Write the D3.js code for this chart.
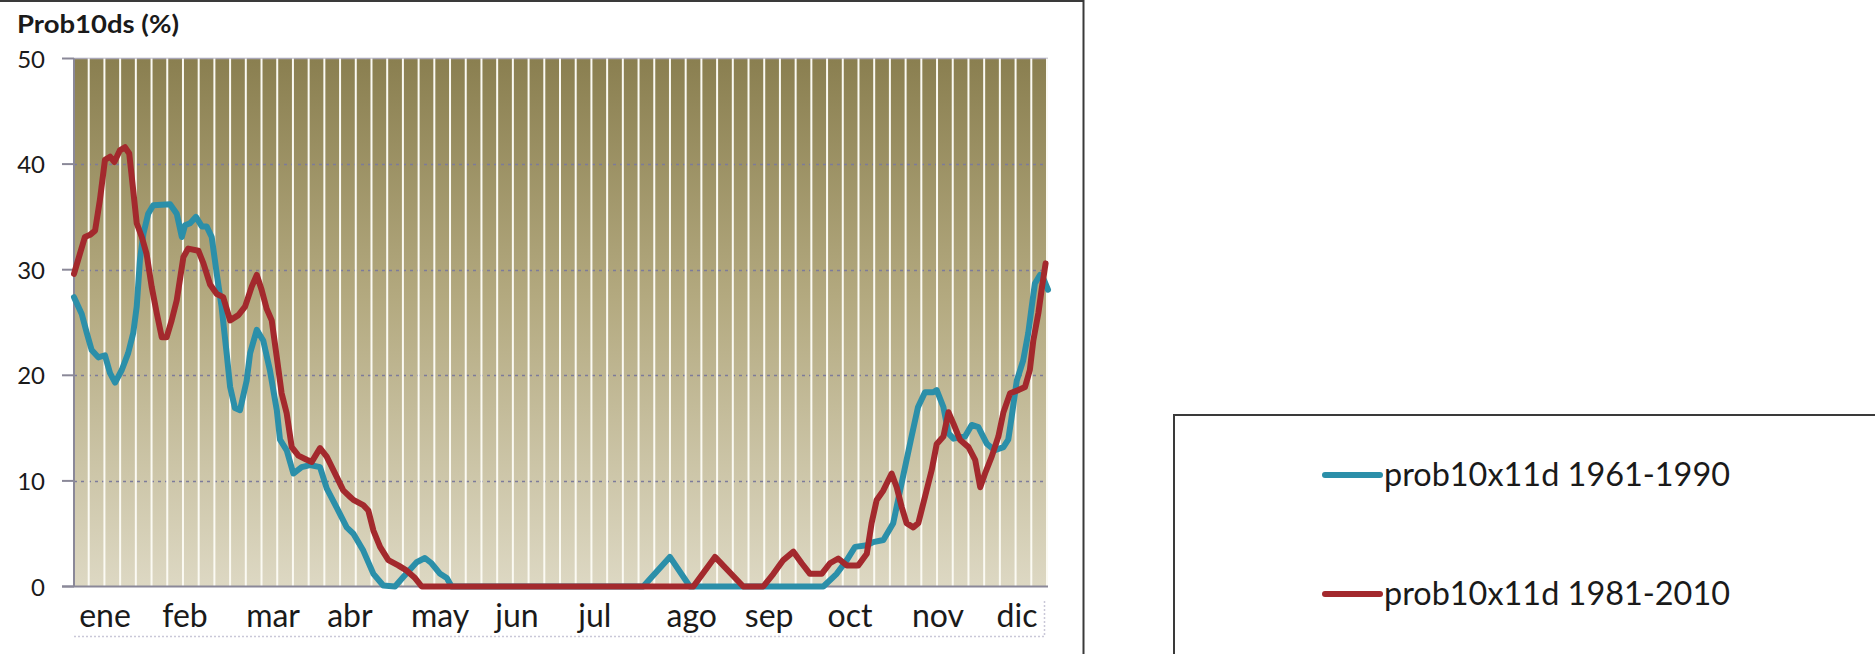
<!DOCTYPE html>
<meta charset="utf-8">
<style>
  body { margin: 0; background: #fff; }
  text { font-family: Lato, "Open Sans", sans-serif; fill: #1a1a1a; }
  text.title { font-size: 24px; font-weight: bold; }
  text.ylab { font-size: 24px; text-anchor: end; }
  text.month { font-size: 32px; text-anchor: middle; }
  text.legend { font-size: 32px; }
</style>
<script src="https://cdn.jsdelivr.net/npm/d3@7"></script>
<div id="chart"></div>
<script>

// month labels and where they sit (day of year)
var months = ["ene","feb","mar","abr","may","jun","jul","ago","sep","oct","nov","dic"];
var monthDays = [11.6, 41.6, 74.6, 103.4, 137.2, 166.0, 195.2, 231.5, 260.5, 290.8, 323.8, 353.4];
var yTicks = [0, 10, 20, 30, 40, 50];
var seriesNames = ["prob10x11d 1961-1990", "prob10x11d 1981-2010"];

// [day, prob %]
var prob1961 = [[0,27.4],[2.9,25.8],[4.8,24.0],[6.6,22.4],[9.1,21.7],[11.6,21.9],[13.5,20.2],[15.4,19.3],
  [17.9,20.5],[20.3,22.1],[22.2,24.0],[23.5,26.5],[24.7,30.9],[26.0,33.4],[27.8,35.3],[29.7,36.1],
  [36.0,36.2],[38.5,35.3],[40.4,33.1],[41.6,34.2],[43.5,34.4],[45.7,35.0],[47.9,34.1],[49.7,34.1],
  [51.6,33.1],[53.5,29.6],[55.3,26.5],[57.2,22.1],[58.5,18.9],[60.3,16.9],[62.2,16.7],[64.7,19.5],
  [66.0,22.1],[68.5,24.3],[70.9,23.3],[73.4,20.5],[76.0,16.7],[77.2,13.9],[79.7,12.9],[82.2,10.7],
  [85.3,11.3],[88.4,11.5],[92.2,11.3],[94.7,9.3],[98.4,7.5],[102.2,5.6],[104.7,5.0],[108.4,3.4],
  [112.2,1.2],[115.9,0.1],[120.3,0],[123.4,0.9],[128.4,2.3],[131.5,2.7],[134.0,2.2],[137.2,1.2],
  [139.7,0.8],[141.5,0],[213.3,0],[223.3,2.8],[230.8,0],[280.8,0],[285.8,1.2],[289.6,2.5],
  [292.7,3.75],[297.1,3.9],[299.5,4.2],[303.3,4.4],[307.0,6.0],[309.5,9.0],[313.7,14.0],[316.3,17.0],
  [318.9,18.4],[322.0,18.4],[323.3,18.6],[325.8,17.0],[327.7,14.5],[329.6,14.0],[333.9,14.2],
  [336.4,15.3],[338.9,15.1],[342.1,13.5],[345.1,12.9],[348.3,13.2],[350.1,13.9],[351.4,16.1],
  [353.3,19.5],[355.7,21.4],[357.6,24.0],[358.9,26.5],[360.1,28.7],[362.0,29.5],[363.2,29.2],[365,28.1]];

var prob1981 = [[0,29.6],[2.2,31.5],[4.1,33.1],[6.0,33.3],[7.9,33.7],[9.7,36.6],[11.6,40.4],[13.5,40.7],
  [15.1,40.2],[17.2,41.3],[19.1,41.6],[20.7,41.0],[22.2,37.5],[23.5,34.4],[25.4,33.1],[27.2,31.5],
  [29.1,28.4],[31.0,25.9],[32.9,23.6],[34.7,23.6],[36.6,25.2],[38.5,27.1],[41.0,31.2],[42.8,32.0],
  [46.6,31.8],[48.5,30.6],[51.0,28.6],[53.5,27.7],[55.9,27.4],[58.5,25.2],[61.6,25.7],[64.1,26.5],
  [66.6,28.4],[68.5,29.5],[70.3,28.1],[72.2,26.3],[74.1,25.2],[76.0,21.7],[77.8,18.3],[79.7,16.4],
  [81.6,13.2],[84.1,12.4],[87.2,12.0],[89.1,11.8],[92.2,13.1],[94.7,12.3],[98.4,10.4],[100.9,9.1],
  [103.4,8.5],[104.7,8.2],[108.4,7.7],[110.3,7.2],[112.2,5.3],[114.7,3.75],[117.8,2.5],[121.5,2.0],
  [124.7,1.5],[127.8,0.8],[130.3,0],[232.1,0],[240.2,2.8],[250.8,0],[258.3,0],[262.1,1.2],
  [265.8,2.5],[269.6,3.3],[272.7,2.2],[275.8,1.2],[280.2,1.2],[283.3,2.2],[286.4,2.65],[289.6,2.0],
  [293.9,2.0],[297.1,3.1],[298.9,6.0],[300.8,8.2],[303.3,9.1],[306.4,10.7],[308.3,9.4],[310.2,7.5],
  [312.0,6.0],[314.5,5.6],[316.4,6.0],[318.9,8.5],[321.4,11.0],[323.3,13.5],[325.8,14.2],[327.7,16.5],
  [329.6,15.4],[332.0,13.9],[335.2,13.2],[337.7,12.0],[339.6,9.4],[341.4,10.7],[343.9,12.3],
  [346.4,14.2],[348.3,16.5],[350.8,18.3],[353.9,18.6],[356.4,18.9],[358.2,20.5],[359.5,23.3],
  [361.4,25.9],[362.6,28.1],[364.1,30.6]];

var colors = ["#2b8fa9", "#a3292d"];

var W = 1875, H = 654;
var plot = {left: 74, right: 1048, top: 58.5, bottom: 586.5};

var svg = d3.select("#chart").append("svg")
    .attr("width", W)
    .attr("height", H);

var x = d3.scaleLinear().domain([0, 365]).range([plot.left, plot.right]);
var y = d3.scaleLinear().domain([0, 50]).range([plot.bottom, plot.top]);

// background gradient
var grad = svg.append("defs").append("linearGradient")
    .attr("id", "bg").attr("x1", 0).attr("y1", 0).attr("x2", 0).attr("y2", 1);
grad.append("stop").attr("offset", "0%").attr("stop-color", "#8a7f50");
grad.append("stop").attr("offset", "45%").attr("stop-color", "#b3a97f");
grad.append("stop").attr("offset", "100%").attr("stop-color", "#ddd8c3");

svg.append("rect")
    .attr("x", plot.left).attr("y", plot.top)
    .attr("width", plot.right - plot.left).attr("height", plot.bottom - plot.top)
    .attr("fill", "url(#bg)");

// horizontal gridlines (dotted)
svg.append("g").selectAll("line")
    .data(yTicks.filter(function(d){ return d > 0 && d < 50; }))
    .enter().append("line")
    .attr("x1", plot.left).attr("x2", plot.right)
    .attr("y1", function(d){ return Math.round(y(d)) + 0.5; })
    .attr("y2", function(d){ return Math.round(y(d)) + 0.5; })
    .attr("stroke", "#7d7b9a")
    .attr("stroke-width", 1.5)
    .attr("stroke-dasharray", "3,4");

svg.append("line")
    .attr("x1", plot.left).attr("x2", plot.right)
    .attr("y1", y(50)).attr("y2", y(50))
    .attr("stroke", "#a9a6b6").attr("stroke-width", 1.5);

// vertical white category lines
var gridDays = d3.range(1, 63).map(function(k){ return k * 365 / 62; });
svg.append("g").selectAll("line")
    .data(gridDays)
    .enter().append("line")
    .attr("x1", function(d){ return x(d) - 1; }).attr("x2", function(d){ return x(d) - 1; })
    .attr("y1", plot.top).attr("y2", plot.bottom)
    .attr("stroke", "#fbfaf3")
    .attr("stroke-width", 2);

// axes
svg.append("line")
    .attr("x1", plot.left).attr("x2", plot.left)
    .attr("y1", plot.top).attr("y2", plot.bottom)
    .attr("stroke", "#8a8898").attr("stroke-width", 2);
svg.append("g").selectAll("line")
    .data(yTicks)
    .enter().append("line")
    .attr("x1", plot.left - 12).attr("x2", plot.left)
    .attr("y1", function(d){ return y(d); }).attr("y2", function(d){ return y(d); })
    .attr("stroke", "#8a8898").attr("stroke-width", 2);
svg.append("line")
    .attr("x1", plot.left - 12).attr("x2", plot.right)
    .attr("y1", plot.bottom).attr("y2", plot.bottom)
    .attr("stroke", "#8a8898").attr("stroke-width", 2);

svg.append("g").selectAll("text")
    .data(yTicks)
    .enter().append("text")
    .attr("class", "ylab")
    .attr("x", 45)
    .attr("y", function(d){ return y(d) + 9; })
    .text(function(d){ return d; });

svg.append("g").selectAll("text")
    .data(months)
    .enter().append("text")
    .attr("class", "month")
    .attr("x", function(d, i){ return x(monthDays[i]); })
    .attr("y", 627)
    .text(function(d){ return d; });

// faint dotted frame under the month labels
svg.append("path")
    .attr("d", "M" + plot.left + ",636.5H1044.5V601")
    .attr("fill", "none")
    .attr("stroke", "#c9c8d8")
    .attr("stroke-width", 1.5)
    .attr("stroke-dasharray", "2,2");

// series
var line = d3.line()
    .x(function(d){ return x(d[0]); })
    .y(function(d){ return y(d[1]); });

[prob1961, prob1981].forEach(function(s, i){
  svg.append("path")
    .datum(s)
    .attr("d", line)
    .attr("fill", "none")
    .attr("stroke", colors[i])
    .attr("stroke-width", 6)
    .attr("stroke-linejoin", "round")
    .attr("stroke-linecap", "round");
});

svg.append("text")
    .attr("class", "title")
    .attr("x", 17).attr("y", 33)
    .attr("textLength", 162).attr("lengthAdjust", "spacingAndGlyphs")
    .text("Prob10ds (%)");

// chart frame (top and right edges)
svg.append("path")
    .attr("d", "M0,1H1083.5V" + H)
    .attr("fill", "none")
    .attr("stroke", "#3a3a3a")
    .attr("stroke-width", 2);

// legend
svg.append("path")
    .attr("d", "M1174," + H + "V415H" + W)
    .attr("fill", "none")
    .attr("stroke", "#3a3a3a")
    .attr("stroke-width", 2);

var legY = [475, 594];
seriesNames.forEach(function(name, i){
  svg.append("line")
    .attr("x1", 1325).attr("x2", 1380)
    .attr("y1", legY[i]).attr("y2", legY[i])
    .attr("stroke", colors[i])
    .attr("stroke-width", 6)
    .attr("stroke-linecap", "round");
  svg.append("text")
    .attr("class", "legend")
    .attr("x", 1384).attr("y", legY[i] + 11)
    .attr("textLength", 346).attr("lengthAdjust", "spacingAndGlyphs")
    .text(name);
});

</script>
